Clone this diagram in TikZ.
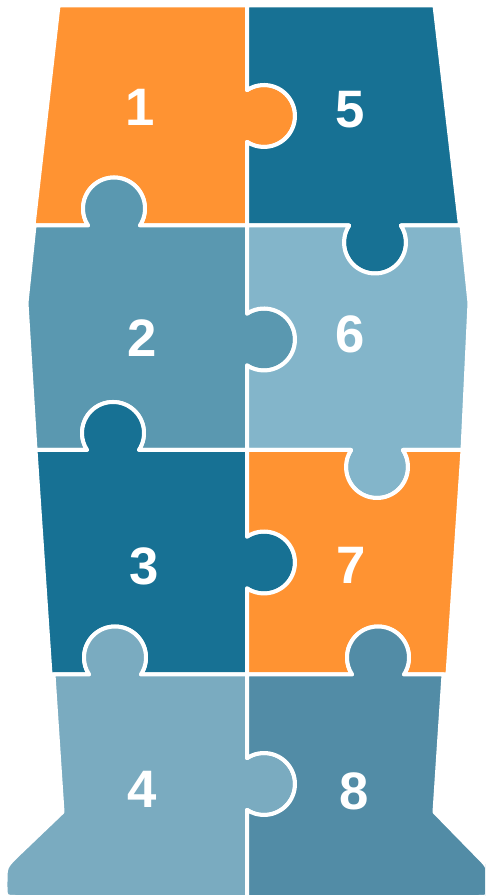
\documentclass[tikz,border=0pt]{standalone}
\usepackage{fontspec}
\setmainfont{Liberation Sans}
\usepackage{tikz}

\definecolor{pzorange}{RGB}{255,147,50}
\definecolor{pzdark}{RGB}{23,113,148}
\definecolor{pzmid}{RGB}{90,152,176}
\definecolor{pzlight}{RGB}{131,181,202}
\definecolor{pzpale}{RGB}{122,171,192}
\definecolor{pzsteel}{RGB}{82,140,166}

\begin{document}
\begin{tikzpicture}[x=0.02cm, y=0.02cm,
  piece/.style={draw=white, line width=0.08cm, line join=round},
  num/.style={text=white, font=\fontsize{30}{36}\selectfont\bfseries, inner sep=0pt}]
\useasboundingbox (0,0) rectangle (485,896);
\clip (0,0) rectangle (485,896);

% top row
\path[piece, fill=pzorange] (33.5,670.5) -- (88.08,670.5) arc[start angle=213.26, end angle=-33.26, radius=31] -- (247,670.5)
  -- (247,754.08) arc[start angle=-123.26, end angle=123.26, radius=31] -- (247,890.5) -- (58.5,890.5) -- cycle;
\path[piece, fill=pzdark] (247,670.5) -- (349.08,670.5) arc[start angle=146.74, end angle=393.26, radius=31] -- (460,670.5)
  -- (434.5,890.5) -- (247,890.5) -- (247,805.92) arc[start angle=123.26, end angle=-123.26, radius=31] -- cycle;

% second row
\path[piece, fill=pzmid] (35.5,446) -- (87.08,446) arc[start angle=213.26, end angle=-33.26, radius=31] -- (247,446)
  -- (247,530.58) arc[start angle=-123.26, end angle=123.26, radius=31] -- (247,670.5)
  -- (139.92,670.5) arc[start angle=-33.26, end angle=213.26, radius=31] -- (34.5,670.5) -- (26.5,593) -- cycle;
\path[piece, fill=pzlight] (247,446) -- (351.08,446) arc[start angle=146.74, end angle=393.26, radius=31] -- (462.5,446)
  -- (469.5,593) -- (461.5,670.5) -- (400.92,670.5) arc[start angle=33.26, end angle=-213.26, radius=31] -- (247,670.5)
  -- (247,582.42) arc[start angle=123.26, end angle=-123.26, radius=31] -- cycle;

% third row
\path[piece, fill=pzdark] (50.5,221.5) -- (89.08,221.5) arc[start angle=213.26, end angle=-33.26, radius=31] -- (247,221.5)
  -- (247,307.58) arc[start angle=-123.26, end angle=123.26, radius=31] -- (247,446)
  -- (138.92,446) arc[start angle=-33.26, end angle=213.26, radius=31] -- (35.5,446) -- cycle;
\path[piece, fill=pzorange] (247,221.5) -- (352.08,221.5) arc[start angle=213.26, end angle=-33.26, radius=31] -- (447.5,221.5)
  -- (462.5,446) -- (402.92,446) arc[start angle=33.26, end angle=-213.26, radius=31] -- (247,446)
  -- (247,359.42) arc[start angle=123.26, end angle=-123.26, radius=31] -- cycle;

% bottom row
\path[piece, fill=pzpale] (247,-1) -- (247,86.08) arc[start angle=-123.26, end angle=123.26, radius=31] -- (247,221.5)
  -- (140.92,221.5) arc[start angle=-33.26, end angle=213.26, radius=31] -- (53.5,221.5) -- (62.5,84)
  -- (16.5,40) .. controls (5.5,29) .. (5.5,14) -- (5.5,9) .. controls (5.5,-1) .. (15.5,-1) -- cycle;
\path[piece, fill=pzsteel] (247,-1) -- (478.5,-1) .. controls (488.5,-1) .. (488.5,9) -- (488.5,14)
  .. controls (488.5,29) .. (477.5,40) -- (434.5,84) -- (443.5,221.5)
  -- (403.92,221.5) arc[start angle=-33.26, end angle=213.26, radius=31] -- (247,221.5)
  -- (247,137.92) arc[start angle=123.26, end angle=-123.26, radius=31] -- cycle;

\foreach \px/\py/\lab in {140/789/1, 142/558/2, 144/330/3, 142/107/4, 350/786/5, 350/562/6, 351/331/7, 354/105/8}
  \node[num] (n\lab) at (\px,\py) {\lab};
\end{tikzpicture}
\end{document}
